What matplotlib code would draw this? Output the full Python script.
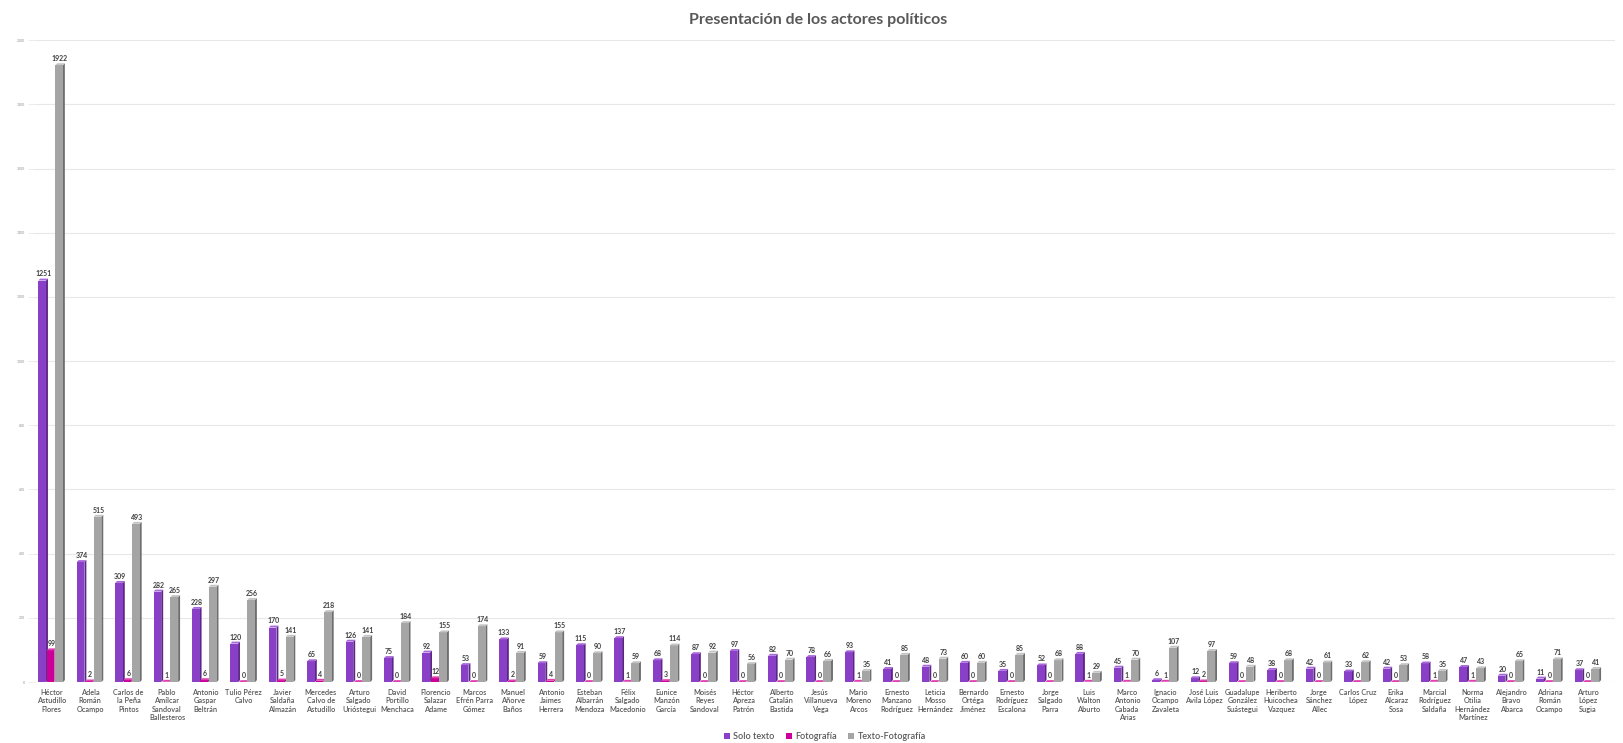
import numpy as np
import matplotlib.pyplot as plt

# actores y conteos por tipo de presentacion
actores = ['Héctor\nAstudillo\nFlores', 'Adela\nRomán\nOcampo', 'Carlos de\nla Peña\nPintos',
           'Pablo\nAmílcar\nSandoval\nBallesteros', 'Antonio\nGaspar\nBeltrán', 'Tulio Pérez\nCalvo',
           'Javier\nSaldaña\nAlmazán', 'Mercedes\nCalvo de\nAstudillo', 'Arturo\nSalgado\nUrióstegui',
           'David\nPortillo\nMenchaca', 'Florencio\nSalazar\nAdame', 'Marcos\nEfrén Parra\nGómez',
           'Manuel\nAñorve\nBaños', 'Antonio\nJaimes\nHerrera', 'Esteban\nAlbarrán\nMendoza',
           'Félix\nSalgado\nMacedonio', 'Eunice\nManzón\nGarcía', 'Moisés\nReyes\nSandoval',
           'Héctor\nApreza\nPatrón', 'Alberto\nCatalán\nBastida', 'Jesús\nVillanueva\nVega',
           'Mario\nMoreno\nArcos', 'Ernesto\nManzano\nRodríguez', 'Leticia\nMosso\nHernández',
           'Bernardo\nOrtéga\nJiménez', 'Ernesto\nRodríguez\nEscalona', 'Jorge\nSalgado\nParra',
           'Luis\nWalton\nAburto', 'Marco\nAntonio\nCabada\nArias', 'Ignacio\nOcampo\nZavaleta',
           'José Luis\nAvila López', 'Guadalupe\nGonzález\nSuástegui', 'Heriberto\nHuicochea\nVazquez',
           'Jorge\nSánchez\nAllec', 'Carlos Cruz\nLópez', 'Erika\nAlcaraz\nSosa',
           'Marcial\nRodríguez\nSaldaña', 'Norma\nOtilia\nHernández\nMartínez', 'Alejandro\nBravo\nAbarca',
           'Adriana\nRomán\nOcampo', 'Arturo\nLópez\nSugia']

solo_texto = [1251, 374, 309, 282, 228, 120, 170, 65, 126, 75, 92, 53, 133, 59, 115, 137, 68, 87,
              97, 82, 78, 93, 41, 48, 60, 35, 52, 88, 45, 6, 12, 59, 38, 42, 33, 42, 58, 47, 20, 11, 37]
fotografia = [99, 2, 6, 1, 6, 0, 5, 4, 0, 0, 12, 0, 2, 4, 0, 1, 3, 0,
              0, 0, 0, 1, 0, 0, 0, 0, 0, 1, 1, 1, 2, 0, 0, 0, 0, 0, 1, 1, 0, 0, 0]
texto_foto = [1922, 515, 493, 265, 297, 256, 141, 218, 141, 184, 155, 174, 91, 155, 90, 59, 114, 92,
              56, 70, 66, 35, 85, 73, 60, 85, 68, 29, 70, 107, 97, 48, 68, 61, 62, 53, 35, 43, 65, 71, 41]

series = ['Solo texto', 'Fotografía', 'Texto-Fotografía']
y_ticks = list(range(0, 2001, 200))

# colores: frente, lado, tapa
colores = [('#8A40C6', '#5C2688', '#A868DA'),
           ('#CC0099', '#8A0068', '#E040B0'),
           ('#A5A5A5', '#6E6E6E', '#C4C4C4')]

plt.rcParams['font.family'] = ['Lato', 'DejaVu Sans']

fig = plt.figure(figsize=(16.23, 7.43), dpi=100)
ax = fig.add_axes([0.0215, 0.082, 0.9735, 0.864])

x = np.arange(len(actores))
w = 0.2          # ancho de la cara frontal
sd = 0.05        # profundidad lateral
dy = 6           # elevacion de la tapa en unidades del eje
offsets = [-0.25, -0.03, 0.19]

for s, vals in enumerate([solo_texto, fotografia, texto_foto]):
    front, side, top = colores[s]
    xs = x + offsets[s]
    ax.bar(xs, vals, width=w, color=front, zorder=3 + s, label=series[s])
    for xi, v in zip(xs, vals):
        x0, x1 = xi - w / 2, xi + w / 2
        ax.fill([x1, x1 + sd, x1 + sd, x1], [0, dy, v + dy, v], color=side, zorder=2 + s, lw=0)
        ax.fill([x0, x0 + sd, x1 + sd, x1], [v, v + dy, v + dy, v], color=top, zorder=3 + s, lw=0)
        ax.annotate(str(v), (xi + sd / 2, v + dy), xytext=(0, 0.8), textcoords='offset points',
                    ha='center', va='bottom', fontsize=5, fontweight='bold',
                    color='#404040', zorder=10)

ax.set_xlim(-0.44, 40.7)
ax.set_ylim(0, 2000)
ax.set_yticks(y_ticks)
ax.set_yticklabels([str(t) for t in y_ticks], fontsize=2.5, color='#909090')
ax.tick_params(axis='y', length=5, width=0.5, color='#E6E6E6', pad=2)
ax.set_xticks(x)
ax.set_xticklabels(actores, fontsize=5.3, color='#595959', linespacing=1.22, va='top',
                   fontweight='semibold')
ax.tick_params(axis='x', length=0, pad=5)
ax.grid(axis='y', color='#E8E8E8', lw=0.8, zorder=0)
for sp in ax.spines.values():
    sp.set_visible(False)

fig.suptitle('Presentación de los actores políticos', x=0.504, y=0.982, fontsize=11.5,
             fontweight='bold', color='#595959')

ax.legend(loc='lower center', bbox_to_anchor=(0.5, -0.105), ncol=3, frameon=False,
          prop={'size': 6.5, 'weight': 'semibold'}, handlelength=0.7, handleheight=0.7,
          handletextpad=0.4, columnspacing=1.2, labelcolor='#595959')

fig.savefig('out.png', dpi=100, facecolor='white')
